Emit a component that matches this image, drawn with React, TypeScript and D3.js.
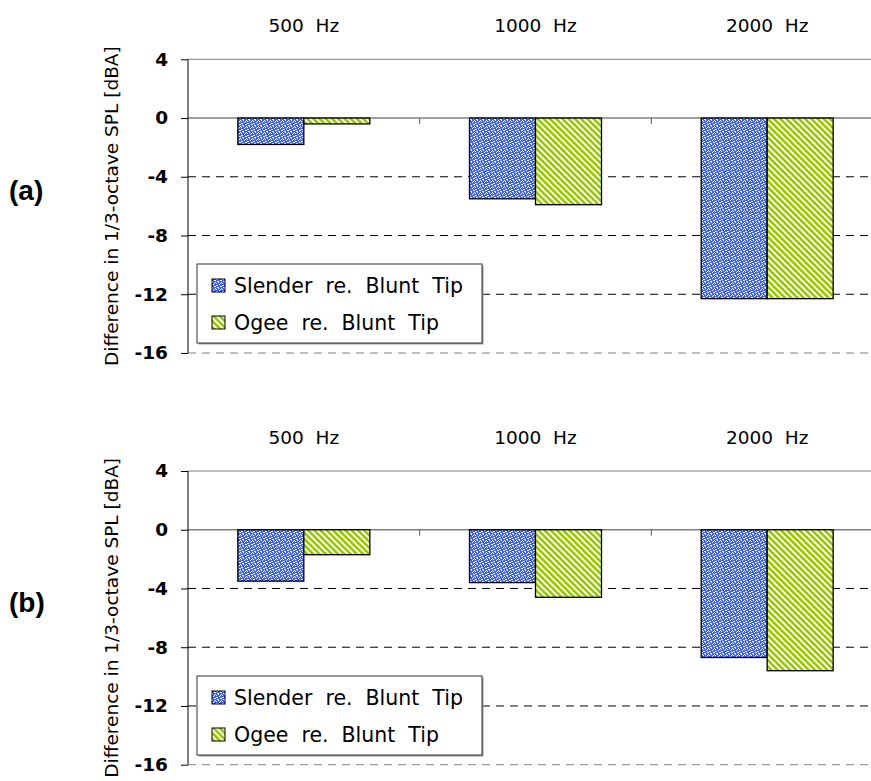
import { useEffect, useRef } from "react";
import * as d3 from "d3";

// chart data
const categories = ["500  Hz", "1000  Hz", "2000  Hz"];
const seriesNames = ["Slender  re.  Blunt  Tip", "Ogee  re.  Blunt  Tip"];
const slenderA = [-1.8, -5.5, -12.3];
const ogeeA = [-0.4, -5.9, -12.3];
const slenderB = [-3.5, -3.6, -8.7];
const ogeeB = [-1.7, -4.6, -9.6];
const yTicks = [4, 0, -4, -8, -12, -16];
const panelLabels = ["(a)", "(b)"];
const yTitle = "Difference in 1/3-octave SPL [dBA]";

const width = 871;
const height = 781;
const font = "'DejaVu Sans', sans-serif";

export default function App() {
  const ref = useRef<SVGSVGElement | null>(null);

  useEffect(() => {
    if (!ref.current) return;
    document.body.style.margin = "0";
    const svg = d3.select(ref.current);
    svg.selectAll("*").remove();

    // patterns
    const defs = svg.append("defs");
    const blue = defs
      .append("pattern")
      .attr("id", "dots")
      .attr("patternUnits", "userSpaceOnUse")
      .attr("width", 6)
      .attr("height", 6);
    blue.append("rect").attr("width", 6).attr("height", 6).attr("fill", "#4163f2");
    const dotPos = [
      [0, 0], [1, 1], [3, 0], [4, 2], [2, 3], [5, 4], [0, 4], [3, 5], [1, 3], [5, 1], [2, 5],
    ];
    blue
      .selectAll("rect.d")
      .data(dotPos)
      .enter()
      .append("rect")
      .attr("class", "d")
      .attr("x", (d) => d[0])
      .attr("y", (d) => d[1])
      .attr("width", 1)
      .attr("height", 1)
      .attr("fill", "#f0f3ff");

    const green = defs
      .append("pattern")
      .attr("id", "stripes")
      .attr("patternUnits", "userSpaceOnUse")
      .attr("width", 4.4)
      .attr("height", 10)
      .attr("patternTransform", "rotate(-45)");
    green.append("rect").attr("width", 4.4).attr("height", 10).attr("fill", "#ffffff");
    green.append("rect").attr("width", 2.6).attr("height", 10).attr("fill", "#99c800");

    const fills = ["url(#dots)", "url(#stripes)"];

    const panels = [
      { top: 59.3, s: slenderA, o: ogeeA, label: panelLabels[0], header: 26, legendY: 264 },
      { top: 471, s: slenderB, o: ogeeB, label: panelLabels[1], header: 438, legendY: 676 },
    ];

    const x0 = 188;
    const x1 = 883;
    const x = d3.scaleBand<string>().domain(categories).range([x0, x1]);
    const xi = d3
      .scaleBand<number>()
      .domain([0, 1])
      .range([0, x.bandwidth()])
      .paddingOuter(0.755);

    panels.forEach((p) => {
      const y = d3.scaleLinear().domain([4, -16]).range([p.top, p.top + 293.7]);
      const g = svg.append("g");

      // gridlines
      g.selectAll("line.grid")
        .data(yTicks)
        .enter()
        .append("line")
        .attr("x1", x0)
        .attr("x2", width)
        .attr("y1", (d) => y(d))
        .attr("y2", (d) => y(d))
        .attr("stroke", (d) => (d === 4 || d === 0 || d === -16 ? "#808080" : "#000"))
        .attr("stroke-width", (d) => (d === 0 ? 1.5 : 1))
        .attr("stroke-dasharray", (d) => (d === 4 || d === 0 ? null : "8,6"));

      // category ticks on zero line
      g.selectAll("line.ct")
        .data(categories.slice(1))
        .enter()
        .append("line")
        .attr("x1", (d) => x(d)!)
        .attr("x2", (d) => x(d)!)
        .attr("y1", y(0))
        .attr("y2", y(0) + 6)
        .attr("stroke", "#555")
        .attr("stroke-width", 1);

      // y axis
      const axis = d3
        .axisLeft(y)
        .tickValues(yTicks)
        .tickSize(7)
        .tickPadding(13)
        .tickFormat((d) => String(d));
      const ag = g.append("g").attr("transform", `translate(${x0},0)`).call(axis);
      ag.select("path.domain").attr("stroke", "#000").attr("d", `M0,${y(4)}V${y(-16)}`);
      ag.selectAll("line").attr("stroke", "#000");
      ag.selectAll("text")
        .attr("font-family", font)
        .attr("font-weight", "bold")
        .attr("font-size", 18.5)
        .attr("fill", "#000");

      // bars
      const rows = categories.map((c, i) => ({ c, v: [p.s[i], p.o[i]] }));
      rows.forEach((r) => {
        g.selectAll(null)
          .data(r.v)
          .enter()
          .append("rect")
          .attr("x", (_, k) => x(r.c)! + xi(k)!)
          .attr("y", y(0))
          .attr("width", xi.bandwidth())
          .attr("height", (d) => y(d) - y(0))
          .attr("fill", (_, k) => fills[k])
          .attr("stroke", "#000")
          .attr("stroke-width", 1.3);
      });

      // headers
      g.selectAll("text.hdr")
        .data(categories)
        .enter()
        .append("text")
        .attr("x", (d) => x(d)! + x.bandwidth() / 2)
        .attr("y", p.header)
        .attr("dy", "0.35em")
        .attr("text-anchor", "middle")
        .style("white-space", "pre")
        .attr("font-family", font)
        .attr("font-size", 18.5)
        .text((d) => d);

      // y title
      g.append("text")
        .attr("transform", `translate(118,${(y(4) + y(-16)) / 2}) rotate(-90)`)
        .attr("text-anchor", "middle")
        .attr("font-family", font)
        .attr("font-size", 18.5)
        .text(yTitle);

      // panel label
      g.append("text")
        .attr("x", 9)
        .attr("y", (y(4) + y(-16)) / 2 - 16)
        .attr("dy", "0.35em")
        .attr("font-family", "'Liberation Sans', Arial, sans-serif")
        .attr("font-weight", "bold")
        .attr("font-size", 28)
        .text(p.label);

      // legend
      const lg = g.append("g").attr("transform", `translate(197,${p.legendY})`);
      lg.append("rect")
        .attr("x", 1.5)
        .attr("y", 1.5)
        .attr("width", 285)
        .attr("height", 79)
        .attr("fill", "#999");
      lg.append("rect")
        .attr("width", 285)
        .attr("height", 79)
        .attr("fill", "#fff")
        .attr("stroke", "#333")
        .attr("stroke-width", 1);
      seriesNames.forEach((n, k) => {
        const cy = 22 + k * 37;
        lg.append("rect")
          .attr("x", 15)
          .attr("y", cy - 7)
          .attr("width", 13)
          .attr("height", 13)
          .attr("fill", fills[k])
          .attr("stroke", "#000")
          .attr("stroke-width", 1);
        lg.append("text")
          .attr("x", 37)
          .attr("y", cy)
          .attr("dy", "0.35em")
          .style("white-space", "pre")
          .attr("font-family", font)
          .attr("font-size", 20.5)
          .text(n);
      });
    });
  }, []);

  return (
    <svg
      ref={ref}
      width={width}
      height={height}
      style={{ display: "block", background: "#fff" }}
    />
  );
}
